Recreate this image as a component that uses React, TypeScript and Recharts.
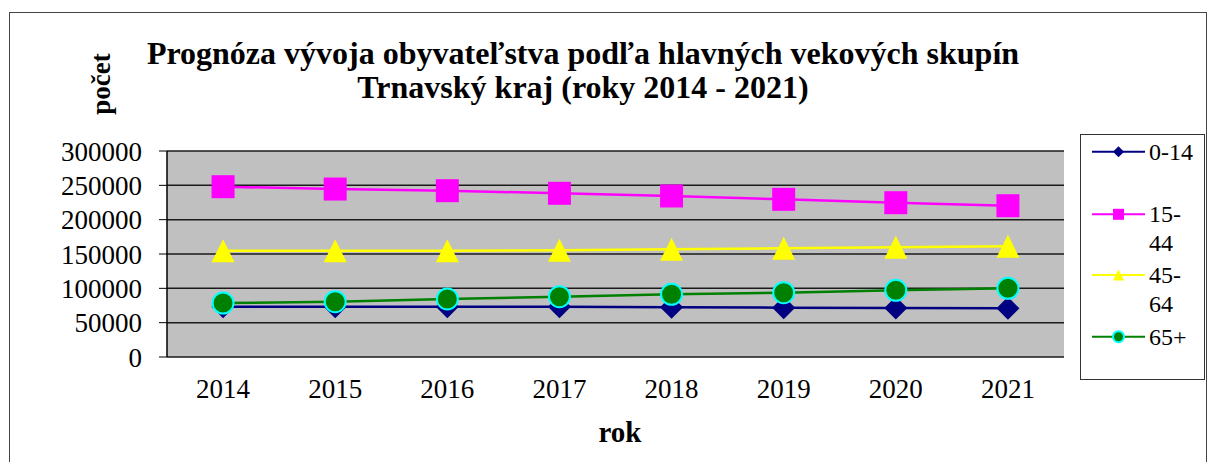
import React from 'react'
import { LineChart, Line, XAxis, YAxis, CartesianGrid } from 'recharts'

const years = ['2014', '2015', '2016', '2017', '2018', '2019', '2020', '2021']
const age0to14 = [73300, 73300, 73300, 73300, 72400, 71900, 71400, 70900]
const age15to44 = [248000, 244600, 242200, 238400, 234500, 229600, 224700, 220300]
const age45to64 = [154800, 154800, 154800, 155300, 156800, 158300, 159700, 161200]
const age65plus = [78600, 80500, 84500, 87800, 91300, 93700, 97100, 100000]
const yTicks = [0, 50000, 100000, 150000, 200000, 250000, 300000]

const FONT = '"Liberation Serif", "Times New Roman", serif'
const W = 1208
const H = 462

const data = years.map((year, i) => ({
  idx: i + 1,
  year,
  a: age0to14[i],
  b: age15to44[i],
  c: age45to64[i],
  d: age65plus[i],
}))

const centerTicks = years.map((_, i) => i + 1)
const boundaryTicks = [...years.map((_, i) => i + 0.5), years.length + 0.5]
const xDomain: [number, number] = [0.5, years.length + 0.5]

type MarkerKind = 'diamond' | 'square' | 'triangle' | 'circle'

function Marker({ kind, cx, cy, s }: { kind: MarkerKind; cx: number; cy: number; s: number }) {
  if (kind === 'diamond') {
    return <path d={`M${cx},${cy - s}L${cx + s},${cy}L${cx},${cy + s}L${cx - s},${cy}Z`} fill="#000080" />
  }
  if (kind === 'square') {
    return <rect x={cx - s} y={cy - s} width={s * 2} height={s * 2} fill="#ff00ff" />
  }
  if (kind === 'triangle') {
    return <path d={`M${cx},${cy - s}L${cx + s},${cy + s}L${cx - s},${cy + s}Z`} fill="#ffff00" />
  }
  return <circle cx={cx} cy={cy} r={s - 1} fill="#008000" stroke="#00ffff" strokeWidth={2} />
}

const series: { key: string; name: string[]; color: string; kind: MarkerKind }[] = [
  { key: 'a', name: ['0-14'], color: '#000080', kind: 'diamond' },
  { key: 'b', name: ['15-', '44'], color: '#ff00ff', kind: 'square' },
  { key: 'c', name: ['45-', '64'], color: '#ffff00', kind: 'triangle' },
  { key: 'd', name: ['65+'], color: '#008000', kind: 'circle' },
]

function makeDot(kind: MarkerKind) {
  return (props: any) => {
    const { cx, cy, index } = props
    if (cx == null || cy == null) return <g key={index} />
    return (
      <g key={`${kind}-${index}`}>
        <Marker kind={kind} cx={cx} cy={cy} s={11.5} />
      </g>
    )
  }
}

const legendRows = [151.7, 214.3, 275, 336.7]

function LegendBox() {
  return (
    <div
      style={{
        position: 'absolute',
        left: 1080,
        top: 134,
        width: 125,
        height: 246,
        boxSizing: 'border-box',
        border: '1px solid #333',
        background: '#fff',
      }}
    >
      <svg width={123} height={244} style={{ position: 'absolute', left: 0, top: 0 }}>
        {series.map((s, i) => {
          const y = legendRows[i] - 135
          return (
            <g key={s.key}>
              <line x1={11} x2={64} y1={y} y2={y} stroke={s.color} strokeWidth={2} />
              <Marker kind={s.kind} cx={37.5} cy={y} s={s.kind === 'circle' ? 6.5 : 5.5} />
              {s.name.map((t, j) => (
                <text
                  key={t}
                  x={68}
                  y={y + j * 28.5}
                  dy="0.34em"
                  fontFamily={FONT}
                  fontSize={24}
                  fill="#000"
                >
                  {t}
                </text>
              ))}
            </g>
          )
        })}
      </svg>
    </div>
  )
}

export default function App() {
  const tickStyle = { fontFamily: FONT, fontSize: 27, fill: '#000' }
  return (
    <div
      style={{
        position: 'absolute',
        left: 0,
        top: 0,
        width: W,
        height: H,
        overflow: 'hidden',
        background: '#fff',
        fontFamily: FONT,
      }}
    >
      <div
        style={{
          position: 'absolute',
          left: 9,
          top: 12,
          width: 1198,
          height: 480,
          boxSizing: 'border-box',
          border: '1.5px solid #444',
        }}
      />
      <div
        style={{
          position: 'absolute',
          left: 0,
          top: 35.5,
          width: 1166,
          textAlign: 'center',
          fontWeight: 'bold',
          fontSize: 32,
          lineHeight: '34px',
          color: '#000',
          whiteSpace: 'nowrap',
        }}
      >
        <div>Prognóza vývoja obyvateľstva podľa hlavných vekových skupín</div>
        <div>Trnavský kraj (roky 2014 - 2021)</div>
      </div>
      <div
        style={{
          position: 'absolute',
          left: 101,
          top: 84,
          transform: 'translate(-50%, -50%) rotate(-90deg)',
          fontWeight: 'bold',
          fontSize: 27,
          whiteSpace: 'nowrap',
        }}
      >
        počet
      </div>
      <div
        style={{
          position: 'absolute',
          left: 620,
          top: 432,
          transform: 'translate(-50%, -50%)',
          fontWeight: 'bold',
          fontSize: 29,
        }}
      >
        rok
      </div>
      <div style={{ position: 'absolute', left: 0, top: 0 }}>
        <LineChart width={W} height={H} data={data} margin={{ top: 151, right: 144, bottom: 0, left: 0 }}>
          <CartesianGrid
            xAxisId="x"
            yAxisId="y"
            vertical={false}
            fill="#c0c0c0"
            stroke="#1a1a1a"
            strokeWidth={1.5}
            fillOpacity={1}
          />
          <XAxis
            xAxisId="x"
            type="number"
            dataKey="idx"
            domain={xDomain}
            ticks={boundaryTicks}
            tickFormatter={() => ''}
            tickSize={8}
            height={0}
            axisLine={{ stroke: '#000', strokeWidth: 1.5 }}
            tickLine={{ stroke: '#000' }}
            allowDataOverflow
          />
          <XAxis
            xAxisId="lbl"
            type="number"
            dataKey="idx"
            domain={xDomain}
            ticks={centerTicks}
            tickFormatter={(v: number) => years[v - 1]}
            axisLine={false}
            tickLine={false}
            tickSize={0}
            tickMargin={21.5}
            height={105}
            tick={tickStyle}
            allowDataOverflow
          />
          <XAxis
            xAxisId="top"
            orientation="top"
            type="number"
            dataKey="idx"
            domain={xDomain}
            tick={false}
            tickLine={false}
            height={0}
            axisLine={{ stroke: '#808080', strokeWidth: 2 }}
            allowDataOverflow
          />
          <YAxis
            yAxisId="y"
            domain={[0, 300000]}
            ticks={yTicks}
            interval={0}
            width={167}
            tickSize={8}
            tickMargin={17}
            tick={tickStyle}
            axisLine={{ stroke: '#000', strokeWidth: 1.5 }}
            tickLine={{ stroke: '#000' }}
          />
          <YAxis
            yAxisId="r"
            orientation="right"
            domain={[0, 300000]}
            width={0}
            tick={false}
            tickLine={false}
            axisLine={{ stroke: '#808080', strokeWidth: 2 }}
          />
          {series.map((s) => (
            <Line
              key={s.key}
              xAxisId="x"
              yAxisId="y"
              type="linear"
              dataKey={s.key}
              name={s.name.join('')}
              stroke={s.color}
              strokeWidth={2.5}
              dot={makeDot(s.kind)}
              activeDot={false}
              isAnimationActive={false}
            />
          ))}
        </LineChart>
      </div>
      <LegendBox />
    </div>
  )
}
